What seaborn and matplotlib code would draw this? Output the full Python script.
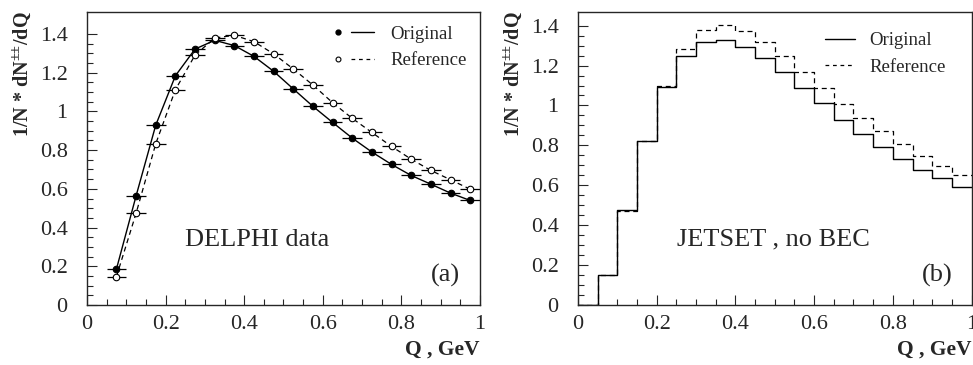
import numpy as np
import pandas as pd
import matplotlib
matplotlib.use("Agg")
import matplotlib.pyplot as plt
from matplotlib.legend_handler import HandlerTuple
import seaborn as sns

# Q bin centres (GeV), bin width 0.05
q_centres = [0.075, 0.125, 0.175, 0.225, 0.275, 0.325, 0.375, 0.425, 0.475, 0.525,
             0.575, 0.625, 0.675, 0.725, 0.775, 0.825, 0.875, 0.925, 0.975]
q_half_width = 0.025

# (a) DELPHI data
delphi_original = [0.186, 0.564, 0.929, 1.184, 1.322, 1.367, 1.340, 1.284, 1.207, 1.116,
                   1.026, 0.943, 0.862, 0.790, 0.726, 0.669, 0.624, 0.578, 0.540]
delphi_reference = [0.147, 0.474, 0.833, 1.112, 1.291, 1.379, 1.393, 1.360, 1.297, 1.219,
                    1.136, 1.045, 0.964, 0.891, 0.819, 0.753, 0.695, 0.647, 0.598]

# (b) JETSET, no BEC -- histogram bins 0..1 step 0.05
hist_edges = [0.0, 0.05, 0.1, 0.15, 0.2, 0.25, 0.3, 0.35, 0.4, 0.45, 0.5,
              0.55, 0.6, 0.65, 0.7, 0.75, 0.8, 0.85, 0.9, 0.95, 1.0]
jetset_original = [0.0, 0.150, 0.477, 0.823, 1.092, 1.246, 1.318, 1.326, 1.295, 1.238,
                   1.166, 1.087, 1.012, 0.928, 0.858, 0.793, 0.733, 0.677, 0.636, 0.592]
jetset_reference = [0.0, 0.148, 0.472, 0.823, 1.099, 1.283, 1.378, 1.402, 1.375, 1.318,
                    1.246, 1.169, 1.089, 1.007, 0.937, 0.870, 0.806, 0.748, 0.699, 0.652]

x_ticks = [0, 0.2, 0.4, 0.6, 0.8, 1]
x_ticklabels = ['0', '0.2', '0.4', '0.6', '0.8', '1']
y_ticks = [0, 0.2, 0.4, 0.6, 0.8, 1, 1.2, 1.4]
y_ticklabels = ['0', '0.2', '0.4', '0.6', '0.8', '1', '1.2', '1.4']

sns.set_style("ticks")
plt.rcParams['font.family'] = ['Liberation Serif', 'DejaVu Serif']
plt.rcParams['mathtext.fontset'] = 'custom'
plt.rcParams['mathtext.rm'] = 'Liberation Serif'
plt.rcParams['mathtext.bf'] = 'Liberation Serif:bold'
plt.rcParams['xtick.direction'] = 'in'
plt.rcParams['ytick.direction'] = 'in'

fig = plt.figure(figsize=(9.73, 3.65), dpi=100)
ax1 = fig.add_axes([0.0894, 0.1644, 0.4039, 0.8036])
ax2 = fig.add_axes([0.594, 0.1644, 0.4045, 0.8036])

ylabel = r'1/N * dN$^{\mathbf{{\pm}{\pm}}}$/dQ'
dash = (0, (4, 3))

# panel (a)
df_a = pd.DataFrame({'Q': q_centres, 'orig': delphi_original, 'ref': delphi_reference})
sns.lineplot(data=df_a, x='Q', y='orig', ax=ax1, color='black', lw=1.0)
sns.lineplot(data=df_a, x='Q', y='ref', ax=ax1, color='black', lw=0.9, linestyle=dash)
ax1.errorbar(q_centres, delphi_original, xerr=q_half_width, fmt='none', ecolor='black', elinewidth=0.9)
ax1.errorbar(q_centres, delphi_reference, xerr=q_half_width, fmt='none', ecolor='black', elinewidth=0.9)
sns.scatterplot(data=df_a, x='Q', y='orig', ax=ax1, color='black', s=22, edgecolor='black', linewidth=0.8, zorder=5)
sns.scatterplot(data=df_a, x='Q', y='ref', ax=ax1, color='white', s=22, edgecolor='black', linewidth=0.8, zorder=5)
ax1.set_ylim(0, 1.515)

# legend (a): marker then line
m1 = plt.Line2D([], [], ls='none', marker='o', ms=3.5, mfc='black', mec='black')
l1 = plt.Line2D([], [], color='black', lw=1.0)
m2 = plt.Line2D([], [], ls='none', marker='o', ms=3.5, mfc='white', mec='black', mew=0.8)
l2 = plt.Line2D([], [], color='black', lw=0.9, linestyle=(0, (3, 3)))
ax1.legend([(m1, l1), (m2, l2)], ['Original', 'Reference'], loc='upper left', frameon=False, fontsize=13.5,
           handler_map={tuple: HandlerTuple(ndivide=None, pad=0.1)},
           handlelength=2.5, handletextpad=0.9, bbox_to_anchor=(0.61, 0.952), labelspacing=0.5,
           borderpad=0, borderaxespad=0)
ax1.text(0.25, 0.336, 'DELPHI data', fontsize=19, va='center', ha='left')
ax1.text(0.875, 0.155, '(a)', fontsize=19, va='center', ha='left')

# panel (b)
df_b = pd.DataFrame({'Q': [(hist_edges[i] + hist_edges[i + 1]) / 2 for i in range(len(jetset_original))],
                     'orig': jetset_original, 'ref': jetset_reference})
sns.histplot(data=df_b, x='Q', weights='orig', bins=hist_edges, element='step', fill=False,
             color='black', lw=1.0, ax=ax2)
sns.histplot(data=df_b, x='Q', weights='ref', bins=hist_edges, element='step', fill=False,
             color='black', lw=0.9, linestyle=dash, ax=ax2)
ax2.set_ylim(0, 1.47)
h3 = plt.Line2D([], [], color='black', lw=1.0)
h4 = plt.Line2D([], [], color='black', lw=0.9, linestyle=(0, (3, 3)))
ax2.legend([h3, h4], ['Original', 'Reference'], loc='upper left', frameon=False, fontsize=13.5,
           handlelength=1.6, handletextpad=0.8, bbox_to_anchor=(0.627, 0.93), labelspacing=0.5,
           borderpad=0, borderaxespad=0)
ax2.text(0.251, 0.326, 'JETSET , no BEC', fontsize=19, va='center', ha='left')
ax2.text(0.873, 0.146, '(b)', fontsize=19, va='center', ha='left')

for ax in (ax1, ax2):
    ax.set_xlim(0, 1)
    ax.set_xticks(x_ticks)
    ax.set_xticklabels(x_ticklabels)
    ax.set_yticks(y_ticks)
    ax.set_yticklabels(y_ticklabels)
    ax.set_xticks(np.arange(0, 1.0001, 0.05), minor=True)
    ax.set_yticks(np.arange(0, 1.45, 0.05), minor=True)
    ax.tick_params(which='major', length=7, width=0.8, labelsize=16)
    ax.tick_params(axis='x', which='major', pad=7)
    ax.tick_params(axis='y', which='major', pad=14)
    ax.tick_params(which='minor', length=4, width=0.8)
    for s in ax.spines.values():
        s.set_visible(True)
        s.set_linewidth(1.0)
    ax.set_xlabel('Q , GeV', loc='right', fontsize=15.5, fontweight='bold', labelpad=4)
    ax.set_ylabel(ylabel, loc='top', fontsize=14.5, fontweight='bold', labelpad=5)

fig.savefig('out.png', dpi=100)
